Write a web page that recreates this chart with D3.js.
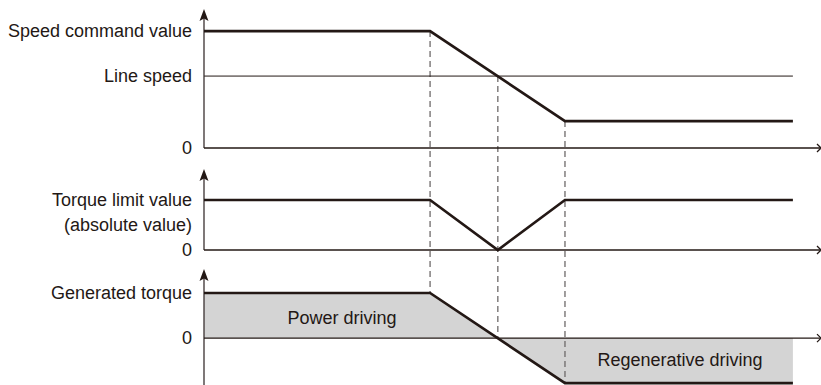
<!DOCTYPE html>
<html>
<head>
<meta charset="utf-8">
<script src="https://cdn.jsdelivr.net/npm/d3@7/dist/d3.min.js"></script>
<style>
  body { margin: 0; background: #fff; }
  text { font-family: "Liberation Sans", Arial, sans-serif; fill: #231815; }
</style>
</head>
<body>
<div id="chart"></div>
<script>
// time points (arbitrary units, 0..100 = full axis)
const times = [0, 36.7, 58.6, 95.6]
const eventTimes = [36.7, 47.7, 58.6]

// speed panel
const speedValues = [100, 100, 23, 23]
const lineSpeed = 61.5
// torque limit panel (absolute value)
const limitTimes = [0, 36.7, 47.7, 58.6, 95.6]
const limitValues = [100, 100, 0, 100, 100]
// generated torque panel
const torqueValues = [100, 100, -100, -100]

const width = 821, height = 385
const ink = "#231815"

const svg = d3.select("#chart").append("svg")
  .attr("width", width)
  .attr("height", height)

const x = d3.scaleLinear().domain([0, 100]).range([204, 820])

// one y scale per panel
const ySpeed = d3.scaleLinear().domain([0, 118]).range([148, 10])
const yLimit = d3.scaleLinear().domain([0, 160]).range([250, 170])
const yTorque = d3.scaleLinear().domain([-104, 151]).range([385, 270])

// gray area for generated torque
const torqueData = times.map((t, i) => ({ t, v: torqueValues[i] }))
svg.append("path")
  .datum(torqueData)
  .attr("fill", "#d4d4d4")
  .attr("d", d3.area().x(d => x(d.t)).y0(yTorque(0)).y1(d => yTorque(d.v)))

// dashed event lines
const dashTop = [ySpeed(100), ySpeed(lineSpeed), ySpeed(23)]
const dashBottom = [yTorque(100), yTorque(0), yTorque(-100)]
svg.selectAll("line.evt")
  .data(eventTimes)
  .enter()
  .append("line")
  .attr("class", "evt")
  .attr("x1", d => x(d)).attr("x2", d => x(d))
  .attr("y1", (d, i) => dashTop[i])
  .attr("y2", (d, i) => dashBottom[i])
  .attr("stroke", "#6e6a6a")
  .attr("stroke-width", 1.3)
  .attr("stroke-dasharray", "6,4")

// line speed reference
svg.append("line")
  .attr("x1", x(0)).attr("x2", x(95.6))
  .attr("y1", ySpeed(lineSpeed)).attr("y2", ySpeed(lineSpeed))
  .attr("stroke", ink).attr("stroke-width", 1)

// axes with arrows
const panels = [
  { y: ySpeed, top: 118, bottom: 0 },
  { y: yLimit, top: 160, bottom: 0 },
  { y: yTorque, top: 151, bottom: -104 }
]
panels.forEach(p => {
  const x0 = x(0), yt = p.y(p.top)
  svg.append("line")
    .attr("x1", x0).attr("x2", x0)
    .attr("y1", p.y(p.bottom)).attr("y2", yt + 2)
    .attr("stroke", "#3a3030").attr("stroke-width", 1.3)
  svg.append("path")
    .attr("d", `M${x0 - 4.5},${yt + 11} L${x0},${yt - 1} L${x0 + 4.5},${yt + 11} L${x0},${yt + 8.5} Z`)
    .attr("fill", ink)
  // time axis at zero
  svg.append("line")
    .attr("x1", x0).attr("x2", x(100))
    .attr("y1", p.y(0)).attr("y2", p.y(0))
    .attr("stroke", ink).attr("stroke-width", 1.3)
  svg.append("path")
    .attr("d", `M${x(100) - 3},${p.y(0) - 4} L${x(100) + 1},${p.y(0)} L${x(100) - 3},${p.y(0) + 4}`)
    .attr("fill", "none").attr("stroke", ink).attr("stroke-width", 1.3)
})

// thick signal lines
const line = (ys) => d3.line().x(d => x(d.t)).y(d => ys(d.v))
svg.append("path")
  .datum(times.map((t, i) => ({ t, v: speedValues[i] })))
  .attr("fill", "none").attr("stroke", ink).attr("stroke-width", 2.7)
  .attr("d", line(ySpeed))
svg.append("path")
  .datum(limitTimes.map((t, i) => ({ t, v: limitValues[i] })))
  .attr("fill", "none").attr("stroke", ink).attr("stroke-width", 2.7)
  .attr("d", line(yLimit))
svg.append("path")
  .datum(torqueData)
  .attr("fill", "none").attr("stroke", ink).attr("stroke-width", 2.7)
  .attr("d", line(yTorque))

// labels
const labels = [
  { text: "Speed command value", y: ySpeed(100) },
  { text: "Line speed", y: ySpeed(lineSpeed) },
  { text: "0", y: ySpeed(0) },
  { text: "Torque limit value", y: yLimit(100) },
  { text: "(absolute value)", y: yLimit(100) + 25 },
  { text: "0", y: yLimit(0) },
  { text: "Generated torque", y: yTorque(100) },
  { text: "0", y: yTorque(0) }
]
svg.selectAll("text.lbl")
  .data(labels)
  .enter()
  .append("text")
  .attr("class", "lbl")
  .attr("x", 192)
  .attr("y", d => d.y)
  .attr("dy", "0.35em")
  .attr("text-anchor", "end")
  .attr("font-size", 18)
  .text(d => d.text)

svg.append("text")
  .attr("x", 342).attr("y", 318).attr("dy", "0.35em")
  .attr("text-anchor", "middle").attr("font-size", 18)
  .text("Power driving")
svg.append("text")
  .attr("x", 680).attr("y", 360).attr("dy", "0.35em")
  .attr("text-anchor", "middle").attr("font-size", 18)
  .text("Regenerative driving")
</script>
</body>
</html>
